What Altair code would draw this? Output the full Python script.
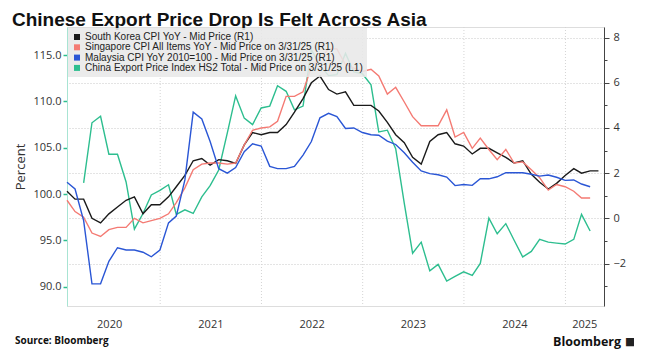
import altair as alt
import pandas as pd

# ---------------- data ----------------
SERIES = [
    "South Korea CPI YoY - Mid Price (R1)",
    "Singapore CPI All Items YoY - Mid Price on 3/31/25 (R1)",
    "Malaysia CPI YoY 2010=100 - Mid Price on 3/31/25 (R1)",
    "China Export Price Index HS2 Total - Mid Price on 3/31/25 (L1)",
]
COLORS = ["#1a1a1a", "#f47a73", "#2a56d5", "#2dbe8f"]

# monthly, month-end dates; Korea Jan-2020..Apr-2025 (right axis, %)
KOREA = [1.2, 0.85, 0.85, 0.0, -0.2, 0.2, 0.5, 0.8, 0.95, 0.2, 0.6, 0.6,
         0.95, 1.4, 1.9, 2.55, 2.65, 2.36, 2.6, 2.55, 2.43, 3.25, 3.8, 3.7,
         3.8, 3.8, 4.15, 4.7, 5.3, 6.0, 6.3, 5.7, 5.5, 5.6, 5.0, 5.0,
         5.0, 4.75, 4.25, 3.7, 3.35, 2.7, 2.4, 3.4, 3.7, 3.8, 3.3, 3.2,
         2.85, 3.1, 3.1, 2.9, 2.7, 2.45, 2.55, 1.95, 1.6, 1.3, 1.55, 1.9,
         2.2, 2.0, 2.1, 2.1]
# Singapore Jan-2020..Mar-2025 (right axis, %)
SINGAPORE = [0.8, 0.3, 0.05, -0.65, -0.8, -0.5, -0.4, -0.4, 0.0, -0.2, -0.1, 0.0,
             0.2, 0.7, 1.35, 2.15, 2.4, 2.45, 2.45, 2.4, 2.45, 3.25, 3.9, 4.0,
             4.05, 4.3, 5.4, 5.4, 5.6, 6.7, 7.05, 7.5, 7.5, 6.8, 6.65, 6.5,
             6.6, 6.3, 5.5, 5.8, 5.15, 4.5, 4.1, 4.1, 4.1, 4.8, 3.6, 3.8,
             3.1, 3.55, 3.05, 2.6, 3.05, 2.45, 2.5, 2.15, 1.8, 1.25, 1.5, 1.4,
             1.2, 0.9, 0.9]
# Malaysia Jan-2020..Mar-2025 (right axis, %)
MALAYSIA = [1.6, 1.3, -0.1, -2.9, -2.9, -1.9, -1.3, -1.4, -1.4, -1.5, -1.7, -1.4,
            -0.2, 0.1, 1.7, 4.7, 4.4, 3.4, 2.2, 2.0, 2.25, 2.95, 3.3, 3.2,
            2.3, 2.2, 2.2, 2.3, 2.8, 3.4, 4.45, 4.65, 4.5, 3.98, 4.0, 3.8,
            3.7, 3.68, 3.42, 3.27, 2.9, 2.48, 2.1, 1.98, 1.93, 1.83, 1.45, 1.5,
            1.46, 1.75, 1.75, 1.84, 2.02, 2.02, 2.02, 1.95, 1.87, 1.92, 1.82, 1.68,
            1.7, 1.52, 1.4]
# China export price index Mar-2020..Mar-2025 (left axis)
CHINA = [101.2, 107.7, 108.4, 104.3, 104.3, 101.3, 96.2, 97.9, 99.9, 100.4,
         101.0, 97.8, 98.3, 97.9, 99.7, 100.9, 102.6, 106.6, 110.6, 108.2, 107.5, 109.3,
         109.5, 111.7, 111.1, 109.1, 109.5, 115.6, 113.9, 112.8, 112.9, 115.2, 113.2, 113.0,
         111.8, 106.7, 106.9, 104.9, 99.0, 93.6, 94.8, 91.7, 92.4, 90.6, 91.1, 91.6,
         91.2, 92.5, 97.4, 95.7, 96.8, 95.0, 93.2, 93.8, 95.1, 94.8, 94.7, 94.6,
         95.1, 97.8, 96.0]

KOREA_START = (2020, 1)
SINGAPORE_START = (2020, 1)
MALAYSIA_START = (2020, 1)
CHINA_START = (2020, 3)

YEAR_BOUNDARIES = ["2021-01-01", "2022-01-01", "2023-01-01", "2024-01-01", "2025-01-01"]
YEAR_LABEL_DATES = [(2020, 7, 1), (2021, 7, 1), (2022, 7, 1), (2023, 7, 1), (2024, 7, 1), (2025, 3, 10)]
X_DOMAIN = [(2020, 1, 31), (2025, 5, 20)]
LEFT_DOMAIN = [87.9, 118.05]
RIGHT_DOMAIN = [-3.88, 8.47]
LEFT_TICKS = [90, 95, 100, 105, 110, 115]
RIGHT_TICKS = list(range(-3, 9))

TITLE = "Chinese Export Price Drop Is Felt Across Asia"
SOURCE = "Source: Bloomberg"
BRAND = "Bloomberg"
BRAND_ICON = "\u25A0"


def month_ends(start, n):
    y, m = start
    out = []
    for k in range(n):
        mm = m - 1 + k
        ts = pd.Timestamp(y + mm // 12, mm % 12 + 1, 1) + pd.offsets.MonthEnd(0)
        out.append(ts)
    return out


def frame(name, start, values):
    return pd.DataFrame({"date": month_ends(start, len(values)), "series": name, "value": values})


right_df = pd.concat([
    frame(SERIES[0], KOREA_START, KOREA),
    frame(SERIES[1], SINGAPORE_START, SINGAPORE),
    frame(SERIES[2], MALAYSIA_START, MALAYSIA),
], ignore_index=True)
left_df = frame(SERIES[3], CHINA_START, CHINA)
grid_df = pd.DataFrame({"date": pd.to_datetime(YEAR_BOUNDARIES)})
legend_df = pd.DataFrame({"series": SERIES})

FONT = "Open Sans"
TXT = "#333333"

xscale = alt.Scale(domain=[alt.DateTime(year=a, month=b, date=c) for a, b, c in X_DOMAIN])
xaxis = alt.Axis(
    values=[alt.DateTime(year=a, month=b, date=c) for a, b, c in YEAR_LABEL_DATES],
    format="%Y", title=None, grid=False, ticks=False, domain=False,
    labelPadding=12, labelFontSize=11, labelColor=TXT, labelFont=FONT,
)
X = alt.X("date:T", scale=xscale, axis=xaxis)
stroke_enc = alt.Stroke("series:N", scale=alt.Scale(domain=SERIES, range=COLORS), legend=None)

# legend-carrying layer first (invisible zero-size filled squares) so its legend wins the merge
legend_layer = alt.Chart(legend_df).mark_square(size=0, filled=True).encode(
    color=alt.Color(
        "series:N", scale=alt.Scale(domain=SERIES, range=COLORS),
        legend=alt.Legend(
            title=None, orient="top-left", offset=1, padding=4,
            fillColor="rgba(232,232,232,0.88)",
            symbolType="square", symbolSize=36, symbolStrokeWidth=0, symbolOpacity=1,
            labelFont="Liberation Sans", labelFontSize=10, labelColor="#222222",
            labelLimit=400, rowPadding=0.3, labelOffset=3,
        ),
    )
)

grid = alt.Chart(grid_df).mark_rule(color="#d4d4d4", strokeDash=[1, 2], strokeWidth=1).encode(x=X)

left = alt.Chart(left_df).mark_line(strokeWidth=1.4).encode(
    x=X,
    y=alt.Y(
        "value:Q",
        scale=alt.Scale(domain=LEFT_DOMAIN, nice=False, zero=False),
        axis=alt.Axis(
            orient="left", values=LEFT_TICKS, format=".1f", title="Percent", grid=False,
            tickSize=4, tickColor="#2dbe8f", tickWidth=1.5, domainColor="#a8e4d3",
            labelPadding=2, labelFontSize=11, labelColor=TXT, labelFont=FONT,
            titleFontSize=13, titleFontWeight="normal", titleColor=TXT, titleFont=FONT,
            titlePadding=5,
        ),
    ),
    stroke=stroke_enc,
)

right = alt.Chart(right_df).mark_line(strokeWidth=1.4).encode(
    x=X,
    y=alt.Y(
        "value:Q",
        scale=alt.Scale(domain=RIGHT_DOMAIN, nice=False, zero=False),
        axis=alt.Axis(
            orient="right", values=RIGHT_TICKS, title=None,
            labelExpr="datum.value % 2 == 0 ? datum.label : ''",
            grid=True, gridDash=[1, 2], gridColor="#c8c8c8",
            gridOpacity={"condition": {"test": "datum.value % 2 != 0", "value": 0}, "value": 1},
            tickSize={"condition": {"test": "datum.value % 2 != 0", "value": 3}, "value": 5},
            tickColor="#444444", domainColor="#444444",
            labelPadding=4, labelFontSize=11, labelColor=TXT, labelFont=FONT,
        ),
    ),
    stroke=stroke_enc,
    order=alt.Order("date:T"),
)

title_df = pd.DataFrame({"text": [TITLE]})
source_df = pd.DataFrame({"text": [SOURCE]})
brand_df = pd.DataFrame({"text": [BRAND]})
icon_df = pd.DataFrame({"text": [BRAND_ICON]})

title = alt.Chart(title_df).mark_text(
    align="left", baseline="alphabetic", fontSize=19, fontWeight="bold",
    font="Liberation Sans", color="#111111"
).encode(x=alt.value(-55), y=alt.value(-1.5), text="text:N")

source = alt.Chart(source_df).mark_text(
    align="left", baseline="middle", fontSize=10, fontWeight="bold", font=FONT, color="#111111"
).encode(x=alt.value(-52), y=alt.value(314), text="text:N")

brand = alt.Chart(brand_df).mark_text(
    align="right", baseline="middle", fontSize=12.5, fontWeight="bold", font=FONT, color="#111111"
).encode(x=alt.value(554), y=alt.value(315), text="text:N")

icon = alt.Chart(icon_df).mark_text(
    align="left", baseline="middle", fontSize=11, font="DejaVu Sans", color="#222222"
).encode(x=alt.value(558), y=alt.value(315), text="text:N")

chart = alt.layer(legend_layer, grid, left, right, title, source, brand, icon).resolve_scale(
    y="independent"
).resolve_axis(y="independent").properties(
    width=537, height=279,
    autosize=alt.AutoSizeParams(type="none"),
    padding={"left": 59, "top": 19, "right": 30, "bottom": 48},
).configure_view(stroke=None).configure(background="white")

chart.save("out.html", embed_options={"renderer": "svg", "actions": False})
